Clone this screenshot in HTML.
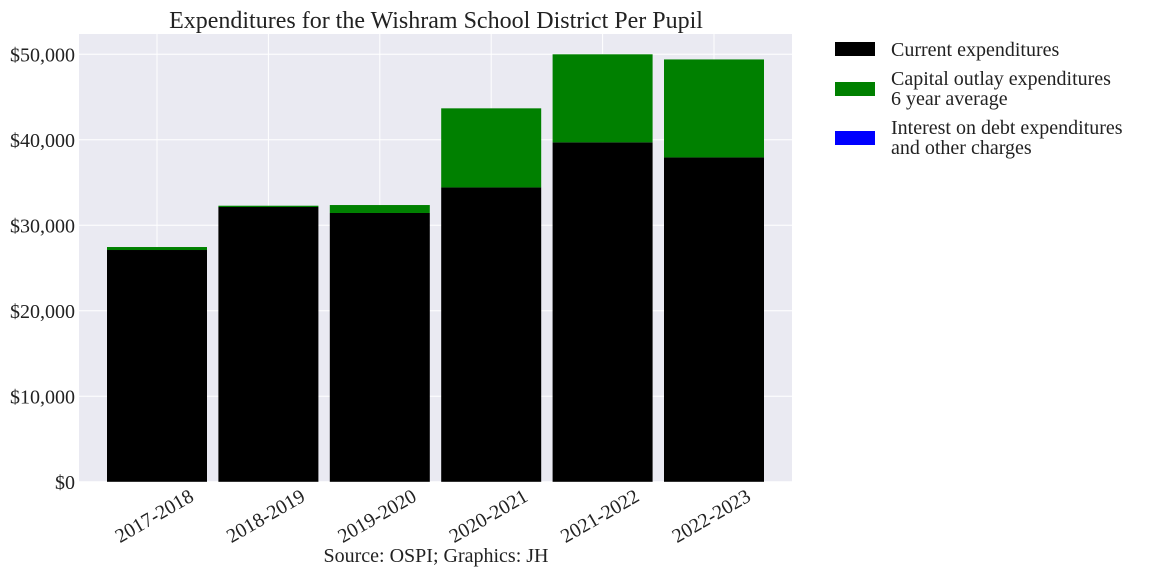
<!DOCTYPE html>
<html><head><meta charset="utf-8"><style>
body{margin:0;background:#fff;}
svg{display:block;font-family:"Liberation Serif",serif;}
</style></head><body>
<svg id="chart" width="1152" height="576" viewBox="0 0 1152 576" xmlns="http://www.w3.org/2000/svg">
<rect x="79" y="34" width="713" height="448" fill="#eaeaf2"/>
<g id="grid"></g>
<g id="bars"></g>
<g id="yticks"></g>
<g id="xticks"></g>
<text x="436" y="28" font-size="24" text-anchor="middle" fill="#222">Expenditures for the Wishram School District Per Pupil</text>
<text x="436" y="562" font-size="20" text-anchor="middle" fill="#222">Source: OSPI; Graphics: JH</text>
<g font-size="20" fill="#222">
<rect x="835" y="42" width="40" height="14" fill="#000"/>
<text x="891" y="56">Current expenditures</text>
<rect x="835" y="82" width="40" height="14" fill="#008000"/>
<text x="891" y="85">Capital outlay expenditures</text>
<text x="891" y="105">6 year average</text>
<rect x="835" y="131" width="40" height="14" fill="#0000ff"/>
<text x="891" y="134">Interest on debt expenditures</text>
<text x="891" y="154">and other charges</text>
</g>
</svg>
<script>
const categories=["2017-2018","2018-2019","2019-2020","2020-2021","2021-2022","2022-2023"];
const currentExp=[27110,32140,31440,34430,39700,37940];
const capitalExp=[350,150,930,9250,10300,11460];
const interestExp=[0,0,0,0,0,0];
const yTickValues=[0,10000,20000,30000,40000,50000];
const yTickLabels=["$0","$10,000","$20,000","$30,000","$40,000","$50,000"];

const NS="http://www.w3.org/2000/svg";
const plotL=79,plotR=792,plotT=34,plotB=482;
const y0=481.8,pxPer=85.5/10000;
function yScale(v){return y0-v*pxPer;}
const step=111.4,firstC=157;
function xScale(i){return firstC+i*step;}
const barW=100;
function mk(tag,attrs,parent){const e=document.createElementNS(NS,tag);for(const k in attrs)e.setAttribute(k,attrs[k]);parent.appendChild(e);return e;}
const grid=document.getElementById('grid'),bars=document.getElementById('bars'),yt=document.getElementById('yticks'),xt=document.getElementById('xticks');
yTickValues.forEach((v,i)=>{
  const y=yScale(v);
  const l=mk('line',{x1:plotL,x2:plotR,y1:y,y2:y,stroke:'#fff','stroke-width':1},grid);
  
  
  const t=mk('text',{x:75,y:y+7,'font-size':20,'text-anchor':'end',fill:'#222'},yt);
  t.textContent=yTickLabels[i];
  
  
});
categories.forEach((c,i)=>{
  const cx=xScale(i);
  const g=mk('line',{x1:cx,x2:cx,y1:plotT,y2:plotB,stroke:'#fff','stroke-width':1},grid);
  
  
  const b1=mk('rect',{x:cx-barW/2,y:yScale(currentExp[i]),width:barW,height:yScale(0)-yScale(currentExp[i]),fill:'#000'},bars);
  
  
  const b2=mk('rect',{x:cx-barW/2,y:yScale(currentExp[i]+capitalExp[i]),width:barW,height:yScale(currentExp[i])-yScale(currentExp[i]+capitalExp[i]),fill:'#008000'},bars);
  
  
  const tot=currentExp[i]+capitalExp[i];
  const b3=mk('rect',{x:cx-barW/2,y:yScale(tot+interestExp[i]),width:barW,height:yScale(tot)-yScale(tot+interestExp[i]),fill:'#0000ff'},bars);
  
  
  const t=mk('text',{x:0,y:0,'font-size':20,'text-anchor':'end',fill:'#222',transform:`translate(${cx+38},${500}) rotate(-30)`},xt);
  t.textContent=c;
  
  
});
</script>
</body></html>
